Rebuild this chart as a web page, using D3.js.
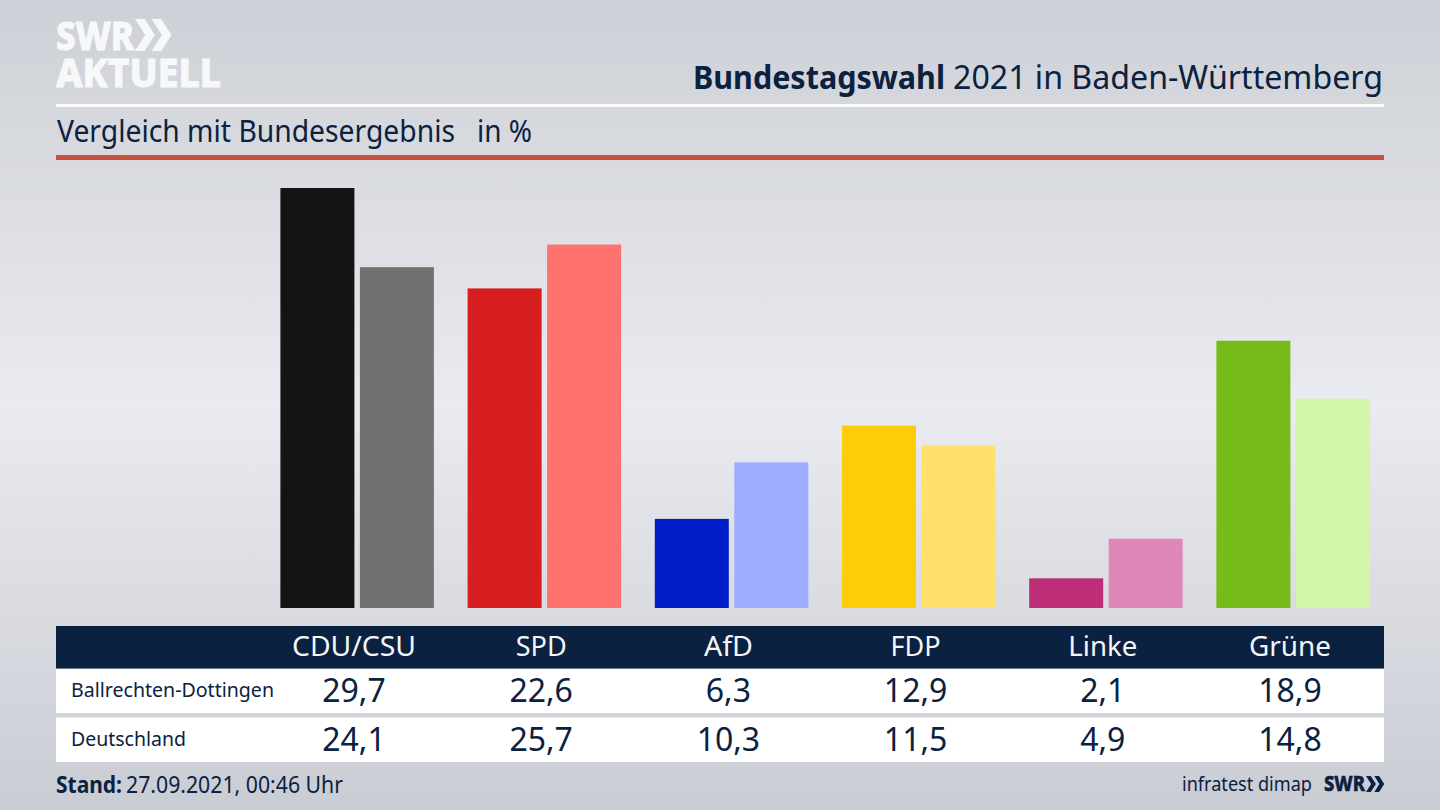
<!DOCTYPE html>
<html>
<head>
<meta charset="utf-8">
<script src="https://cdn.jsdelivr.net/npm/d3@7"></script>
<style>
  html, body { margin: 0; padding: 0; background: #dcdee3; }
  svg { display: block; }
  text { font-family: "Noto Sans", sans-serif; fill: #0b2140; }
</style>
</head>
<body>
<svg id="chart" width="1440" height="810"></svg>
<script>
// values
var parties = ["CDU/CSU", "SPD", "AfD", "FDP", "Linke", "Grüne"];
var regions = ["Ballrechten-Dottingen", "Deutschland"];
var localValues = [29.7, 22.6, 6.3, 12.9, 2.1, 18.9];
var germanyValues = [24.1, 25.7, 10.3, 11.5, 4.9, 14.8];
var localColors = ["#141414", "#d71f1f", "#001ec8", "#ffcc08", "#bd2d78", "#75bb1a"];
var germanyColors = ["#72716f", "#ff726e", "#9dadff", "#ffe06c", "#df88b8", "#d3f6a6"];

// layout only: measured width of each table header
var headerWidths = [124, 51, 49, 50, 69, 82];

var navy = "#0b2140";
var svg = d3.select("#chart");

// background
var defs = svg.append("defs");
var grad = defs.append("linearGradient").attr("id", "bg")
    .attr("x1", 0).attr("y1", 0).attr("x2", 0).attr("y2", 1);
grad.append("stop").attr("offset", "0%").attr("stop-color", "#cdd0d6");
grad.append("stop").attr("offset", "50%").attr("stop-color", "#eaebf0");
grad.append("stop").attr("offset", "100%").attr("stop-color", "#c9ccd3");
svg.append("rect").attr("width", 1440).attr("height", 810).attr("fill", "url(#bg)");

// helper for text that has to hit a given width
function label(txt, x, y, size, width, opts) {
    opts = opts || {};
    var t = svg.append("text")
        .attr("x", x).attr("y", y)
        .attr("font-size", size)
        .attr("text-anchor", opts.anchor || "start")
        .attr("font-weight", opts.weight || 400)
        .style("fill", opts.fill || navy)
        .text(txt);
    if (width) t.attr("textLength", width).attr("lengthAdjust", "spacingAndGlyphs");
    if (opts.stroke) t.style("stroke", opts.fill || navy).style("stroke-width", opts.stroke);
    return t;
}

// double chevron of the logo
function chevrons(x, y, h, fill) {
    var w = h * 0.62, s = h * 0.52, t = h * 0.3;
    [0, s].forEach(function(dx) {
        var p = d3.path();
        p.moveTo(x + dx, y);
        p.lineTo(x + dx + t, y);
        p.lineTo(x + dx + w, y + h / 2);
        p.lineTo(x + dx + t, y + h);
        p.lineTo(x + dx, y + h);
        p.lineTo(x + dx + w - t, y + h / 2);
        p.closePath();
        svg.append("path").attr("d", p.toString()).attr("fill", fill);
    });
}

// logo, two lines in one text element
var logo = svg.append("text")
    .attr("font-size", 40)
    .attr("font-weight", 800)
    .style("fill", "#f7f8f9")
    .style("stroke", "#f7f8f9")
    .style("stroke-width", 1);
logo.append("tspan").attr("x", 56).attr("y", 50)
    .attr("textLength", 78).attr("lengthAdjust", "spacingAndGlyphs").text("SWR");
logo.append("tspan").attr("x", 56).attr("y", 87)
    .attr("textLength", 165).attr("lengthAdjust", "spacingAndGlyphs").text("AKTUELL");
chevrons(135, 19, 32, "#f7f8f9");

// header
label("Bundestagswahl", 693, 89, 33, 252, {weight: 700});
label("2021 in Baden-Württemberg", 953, 89, 33, 430);
svg.append("rect").attr("x", 56).attr("y", 104).attr("width", 1328).attr("height", 3).attr("fill", "#fbfbfc");
label("Vergleich mit Bundesergebnis", 57, 142, 30, 398);
label("in %", 477, 142, 30, 55);
svg.append("rect").attr("x", 56).attr("y", 155).attr("width", 1328).attr("height", 5).attr("fill", "#c8523f");

// bars
var y = d3.scaleLinear().domain([0, 29.7]).range([608, 188]);
var x0 = d3.scaleBand().domain(parties).range([263.4, 1386.6]);
var x1 = d3.scaleBand().domain(regions).range([17, 170.5]).paddingInner(0.069);

var barData = [];
parties.forEach(function(p, i) {
    barData.push({party: p, region: regions[0], value: localValues[i], color: localColors[i]});
    barData.push({party: p, region: regions[1], value: germanyValues[i], color: germanyColors[i]});
});

svg.append("g").selectAll("rect")
    .data(barData)
    .join("rect")
    .attr("x", function(d) { return x0(d.party) + x1(d.region); })
    .attr("y", function(d) { return y(d.value); })
    .attr("width", x1.bandwidth())
    .attr("height", function(d) { return y(0) - y(d.value); })
    .attr("fill", function(d) { return d.color; });

// table
var rowBands = [{top: 669, h: 44}, {top: 717.5, h: 44.5}];
svg.append("rect").attr("x", 56).attr("y", 626).attr("width", 1328).attr("height", 42.5).attr("fill", navy);
rowBands.forEach(function(r) {
    svg.append("rect").attr("x", 56).attr("y", r.top).attr("width", 1328).attr("height", r.h).attr("fill", "#ffffff");
});

// table columns sit a bit left of the bar group centres
function colX(p) { return x0(p) + x0.bandwidth() / 2 - 3; }

parties.forEach(function(p, i) {
    label(p, colX(p), 656, 28, headerWidths[i], {anchor: "middle", fill: "#f4f6f8"});
    label(d3.format(".1f")(localValues[i]).replace(".", ","), colX(p), 702, 32, null, {anchor: "middle"});
    label(d3.format(".1f")(germanyValues[i]).replace(".", ","), colX(p), 751, 32, null, {anchor: "middle"});
});
label(regions[0], 71, 697, 20, 203);
label(regions[1], 71, 746, 20, 115);

// footer
label("Stand:", 56, 793, 23, 66, {weight: 700});
label("27.09.2021, 00:46 Uhr", 126, 793, 23, 217);
label("infratest dimap", 1182, 791, 20, 130);
label("SWR", 1324, 791, 21, 41, {weight: 800, stroke: 0.5});
chevrons(1366, 776, 16, navy);
</script>
</body>
</html>
